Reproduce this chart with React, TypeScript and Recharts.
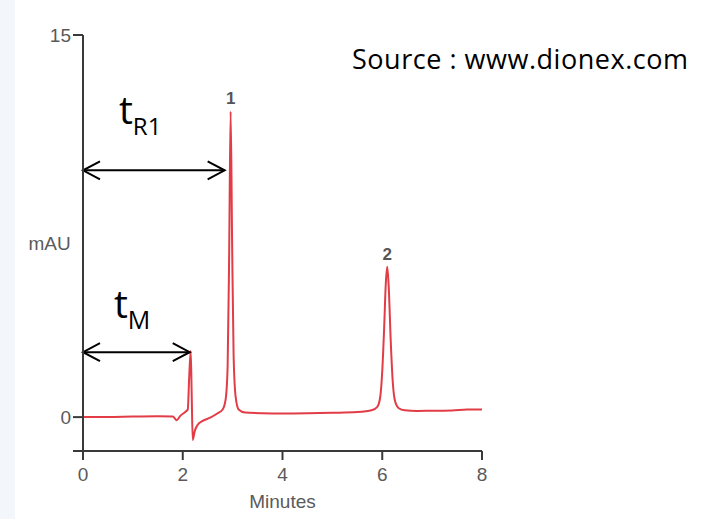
import React from "react";
import { LineChart, Line, XAxis, YAxis, ReferenceLine, ReferenceDot } from "recharts";

// chromatogram trace
const minutes = [
  0, 0.5, 1.0, 1.5, 1.8, 1.88, 1.95, 2.05, 2.1, 2.13, 2.16, 2.18, 2.2, 2.24, 2.3, 2.4, 2.55,
  2.7, 2.8, 2.86, 2.9, 2.93, 2.96, 2.99, 3.02, 3.06, 3.12, 3.25, 3.6, 4.0, 4.5, 5.0, 5.5, 5.8,
  5.9, 5.96, 6.0, 6.04, 6.07, 6.1, 6.13, 6.17, 6.21, 6.26, 6.33, 6.45, 6.7, 7.0, 7.4, 7.7, 8.0,
];
const absorbance = [
  0, 0, 0.02, 0.03, 0.02, -0.12, 0.05, 0.2, 0.3, 1.6, 2.6, 0.8, -0.9, -0.55, -0.3, -0.15, -0.02,
  0.15, 0.3, 0.7, 2.0, 6.3, 12.0, 6.8, 2.4, 0.8, 0.3, 0.18, 0.15, 0.14, 0.15, 0.17, 0.2, 0.28,
  0.4, 0.8, 1.8, 3.6, 5.2, 5.9, 5.1, 3.0, 1.4, 0.6, 0.35, 0.27, 0.24, 0.25, 0.26, 0.3, 0.3,
];

const xTicks = [0, 2, 4, 6, 8];
const yTicks = [-1.33, 0, 15];

const peakNames = ["1", "2"];
const peakTimes = [2.96, 6.1];
const peakHeights = [12.0, 5.9];

// retention time arrows: [end time, level]
const tR1Arrow = [2.84, 9.69];
const tMArrow = [2.14, 2.55];
// label anchors: [time, level]
const tR1Label = [0.72, 11.5];
const tMLabel = [0.62, 3.9];

const data = minutes.map((m, i) => ({ m, v: absorbance[i] }));

const axisFont = "'Liberation Sans', Arial, sans-serif";
const noteFont = "'Open Sans', 'Noto Sans', sans-serif";

const DoubleArrow = (props: any) => {
  const { x1, y1, x2 } = props;
  const h = 17;
  const w = 9;
  return (
    <g stroke="#000" strokeWidth={2} fill="none">
      <line x1={x1} y1={y1} x2={x2} y2={y1} />
      <polyline points={`${x1 + h},${y1 - w} ${x1},${y1} ${x1 + h},${y1 + w}`} />
      <polyline points={`${x2 - h},${y1 - w} ${x2},${y1} ${x2 - h},${y1 + w}`} />
    </g>
  );
};

const makeLabel = (main: string, sub: string, subSize: number, subDy: number) => (p: any) => (
  <text x={p.cx} y={p.cy} fontFamily={noteFont} fill="#000">
    <tspan fontSize={39}>{main}</tspan>
    <tspan fontSize={subSize} dy={subDy}>{sub}</tspan>
  </text>
);

export default function App() {
  return (
    <div style={{ position: "absolute", left: 0, top: 0, width: 702, height: 519, background: "#fff" }}>
      <div style={{ position: "absolute", left: 0, top: 0, width: 15, height: 519, background: "#f3f6fb" }} />
      <div style={{ position: "absolute", left: 0, top: 0 }}>
        <LineChart width={702} height={519} data={data} margin={{ top: 35, right: 220, bottom: 28, left: 0 }}>
          <XAxis
            dataKey="m"
            type="number"
            domain={[0, 8]}
            ticks={xTicks}
            tickSize={9}
            tickMargin={8}
            height={40}
            axisLine={{ stroke: "#3a3a3a", strokeWidth: 2 }}
            tickLine={{ stroke: "#3a3a3a", strokeWidth: 2 }}
            tick={{ fill: "#5a5a5a", fontSize: 19, fontFamily: axisFont }}
            label={{ value: "Minutes", position: "bottom", offset: 4, fill: "#5a5a5a", fontSize: 19, fontFamily: axisFont }}
          />
          <YAxis
            type="number"
            domain={[-1.33, 15]}
            ticks={yTicks}
            tickFormatter={(v: number) => (v < 0 ? "" : String(v))}
            tickSize={10}
            tickMargin={2}
            width={83}
            axisLine={{ stroke: "#3a3a3a", strokeWidth: 2 }}
            tickLine={{ stroke: "#3a3a3a", strokeWidth: 2 }}
            tick={{ fill: "#5a5a5a", fontSize: 19, fontFamily: axisFont }}
            label={{ value: "mAU", position: "center", dx: 8, fill: "#5a5a5a", fontSize: 19, fontFamily: axisFont }}
          />
          <Line
            type="monotone"
            dataKey="v"
            stroke="#e23c46"
            strokeWidth={2}
            dot={false}
            isAnimationActive={false}
          />
          {peakNames.map((n, i) => (
            <ReferenceDot
              key={n}
              x={peakTimes[i]}
              y={peakHeights[i]}
              r={0}
              stroke="none"
              label={{ value: n, position: "top", offset: 7, fill: "#555", fontSize: 17, fontWeight: "bold", fontFamily: axisFont }}
            />
          ))}
          <ReferenceLine
            segment={[{ x: 0, y: tR1Arrow[1] }, { x: tR1Arrow[0], y: tR1Arrow[1] }]}
            shape={DoubleArrow}
          />
          <ReferenceLine
            segment={[{ x: 0, y: tMArrow[1] }, { x: tMArrow[0], y: tMArrow[1] }]}
            shape={DoubleArrow}
          />
          <ReferenceDot x={tR1Label[0]} y={tR1Label[1]} r={0} shape={makeLabel("t", "R1", 24, 11)} />
          <ReferenceDot x={tMLabel[0]} y={tMLabel[1]} r={0} shape={makeLabel("t", "M", 25, 11)} />
        </LineChart>
      </div>
      <svg width={702} height={519} style={{ position: "absolute", left: 0, top: 0, pointerEvents: "none" }}>
        <text x={352} y={69} fontFamily={noteFont} fontSize={27} fill="#000" textLength={336} lengthAdjust="spacing">
          Source : www.dionex.com
        </text>
      </svg>
    </div>
  );
}
